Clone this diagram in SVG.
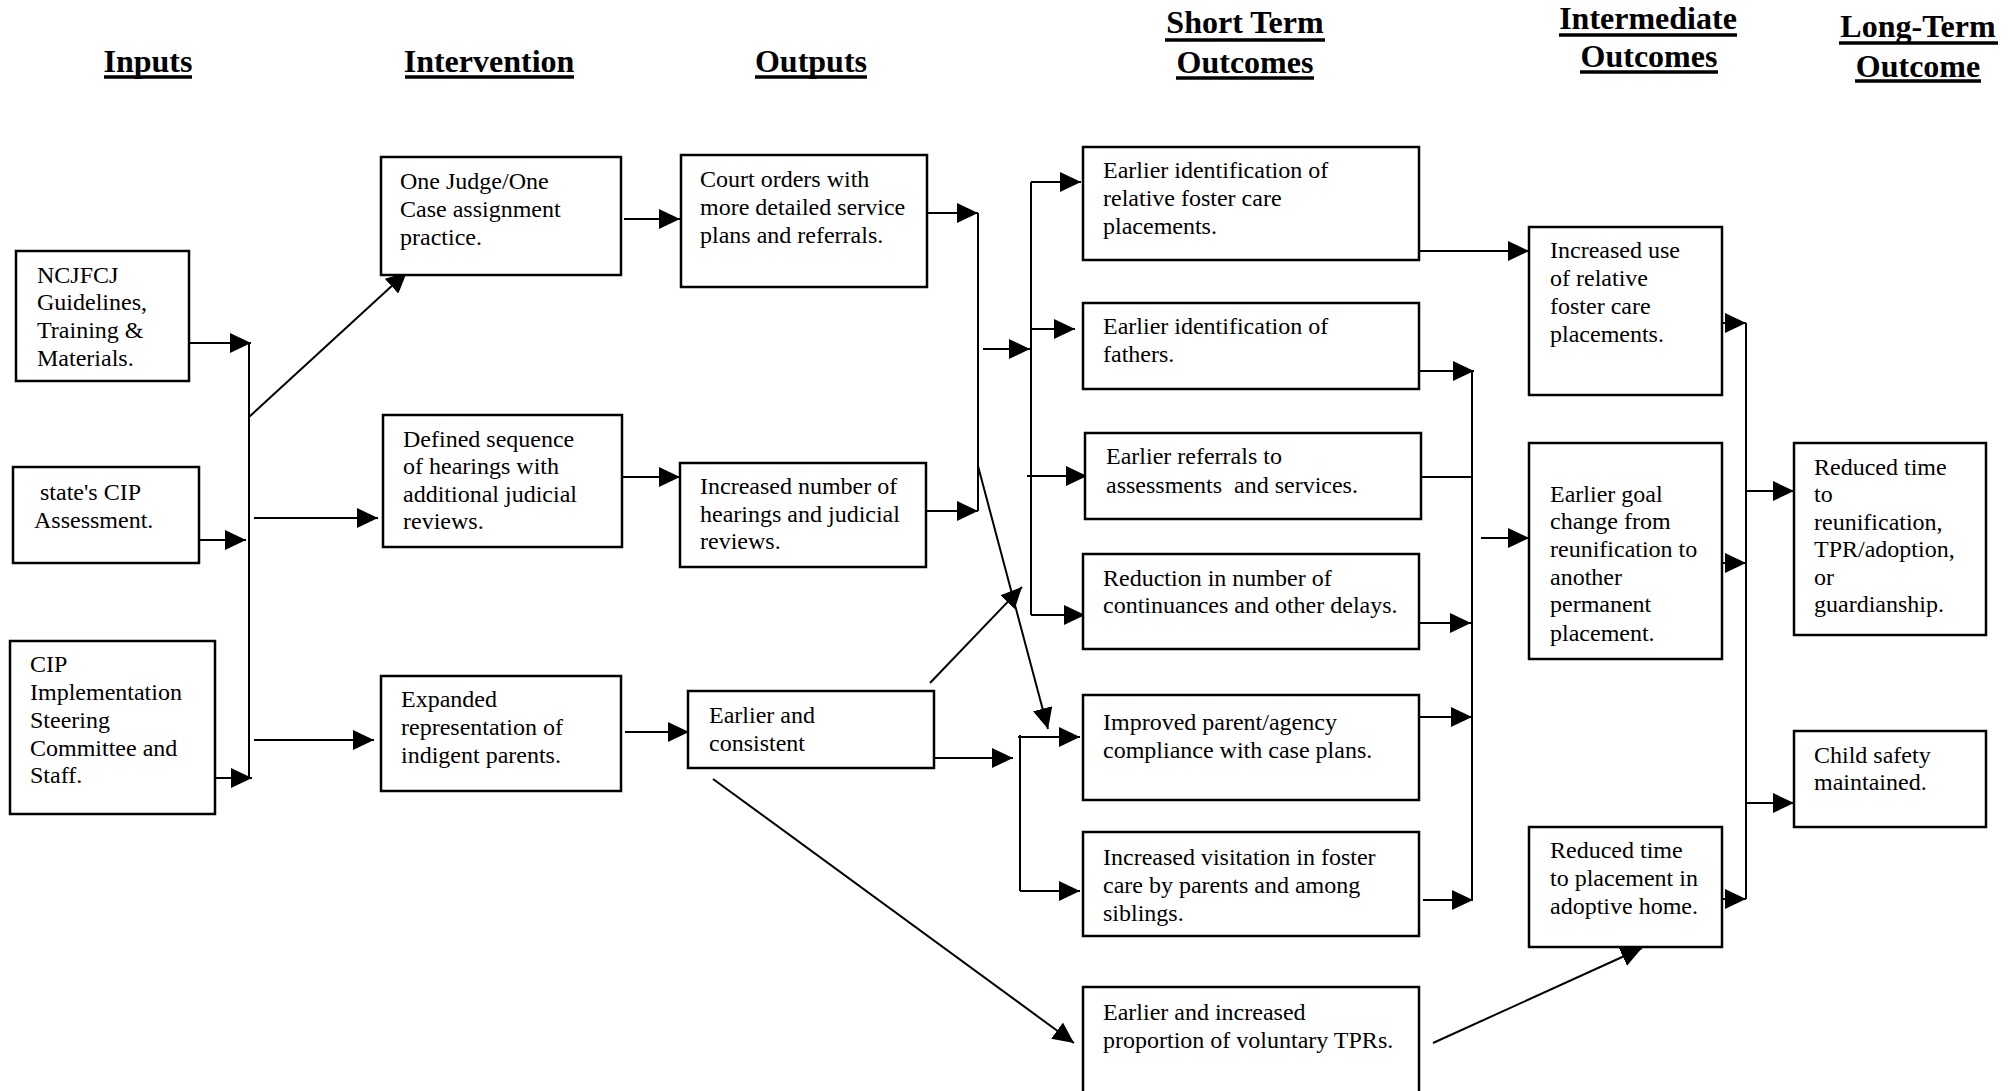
<svg xmlns="http://www.w3.org/2000/svg" width="2011" height="1091" viewBox="0 0 2011 1091">
  <style>
    .hd { font-family: "Liberation Serif", "Times New Roman", serif; font-size: 32px; font-weight: bold; fill: #000; text-anchor: middle; }
    .ul { stroke: #000; stroke-width: 3.5; }
    .box { fill: #fff; stroke: #000; stroke-width: 2.5; }
    .t { font-family: "Liberation Serif", "Times New Roman", serif; font-size: 24px; fill: #000; }
    .c { fill: none; stroke: #000; stroke-width: 2; }
    .a { marker-end: url(#arrow); }
  </style>
  <defs>
    <marker id="arrow" markerUnits="userSpaceOnUse" markerWidth="21" markerHeight="20" refX="21" refY="10" orient="auto">
      <path d="M0,0 L21,10 L0,20 Z" fill="#000"/>
    </marker>
  </defs>
  <rect width="2011" height="1091" fill="#fff"/>

  <!-- column headings -->
  <g id="headings">
    <text class="hd" x="148" y="72">Inputs</text>
    <line class="ul" x1="104" y1="77" x2="192" y2="77"/>
    <text class="hd" x="489" y="72">Intervention</text>
    <line class="ul" x1="405" y1="77" x2="574" y2="77"/>
    <text class="hd" x="811" y="72">Outputs</text>
    <line class="ul" x1="755" y1="77" x2="867" y2="77"/>
    <text class="hd" x="1245" y="33">Short Term</text>
    <line class="ul" x1="1165" y1="40" x2="1325" y2="40"/>
    <text class="hd" x="1245" y="73">Outcomes</text>
    <line class="ul" x1="1176" y1="78" x2="1314" y2="78"/>
    <text class="hd" x="1648" y="29">Intermediate</text>
    <line class="ul" x1="1559" y1="35" x2="1737" y2="35"/>
    <text class="hd" x="1649" y="67">Outcomes</text>
    <line class="ul" x1="1580" y1="72" x2="1718" y2="72"/>
    <text class="hd" x="1918" y="37">Long-Term</text>
    <line class="ul" x1="1839" y1="43" x2="1998" y2="43"/>
    <text class="hd" x="1918" y="77">Outcome</text>
    <line class="ul" x1="1855" y1="81" x2="1981" y2="81"/>
  </g>

  <!-- connectors -->
  <g id="connectors">
    <path class="c a" d="M189,343 H251"/>
    <path class="c a" d="M199,540 H246"/>
    <path class="c a" d="M215,778 H252"/>
    <path class="c" d="M249,343 V778"/>
    <path class="c a" d="M249,417 L407,272"/>
    <path class="c a" d="M254,518 H378"/>
    <path class="c a" d="M254,740 H374"/>
    <path class="c a" d="M624,219 H680"/>
    <path class="c a" d="M623,477 H680"/>
    <path class="c a" d="M625,732 H689"/>
    <path class="c a" d="M927,213 H978"/>
    <path class="c a" d="M926,511 H978"/>
    <path class="c" d="M978,213 V511"/>
    <path class="c a" d="M978,466 L1048,729"/>
    <path class="c a" d="M983,349 H1030"/>
    <path class="c" d="M1031,182 V615"/>
    <path class="c a" d="M1031,182 H1081"/>
    <path class="c a" d="M1031,329 H1075"/>
    <path class="c a" d="M1027,476 H1087"/>
    <path class="c a" d="M1031,615 H1085"/>
    <path class="c a" d="M930,683 L1022,587"/>
    <path class="c a" d="M934,758 H1013"/>
    <path class="c" d="M1020,735 V891"/>
    <path class="c a" d="M1018,737 H1080"/>
    <path class="c a" d="M1020,891 H1080"/>
    <path class="c a" d="M713,779 L1074,1043"/>
    <path class="c a" d="M1409,251 H1529"/>
    <path class="c a" d="M1419,371 H1474"/>
    <path class="c" d="M1421,477 H1472"/>
    <path class="c a" d="M1419,623 H1471"/>
    <path class="c a" d="M1419,717 H1472"/>
    <path class="c a" d="M1423,900 H1473"/>
    <path class="c" d="M1472,371 V900"/>
    <path class="c a" d="M1481,538 H1529"/>
    <path class="c a" d="M1433,1043 L1642,948"/>
    <path class="c a" d="M1722,323 H1746"/>
    <path class="c a" d="M1722,563 H1746"/>
    <path class="c a" d="M1722,899 H1746"/>
    <path class="c" d="M1746,323 V899"/>
    <path class="c a" d="M1746,491 H1794"/>
    <path class="c a" d="M1746,803 H1794"/>
  </g>

  <!-- inputs -->
  <g id="n-ncjfcj">
    <rect class="box" x="16" y="251" width="173" height="130"/>
    <text class="t" x="37" y="283">NCJFCJ</text>
    <text class="t" x="37" y="310">Guidelines,</text>
    <text class="t" x="37" y="338">Training &amp;</text>
    <text class="t" x="37" y="366">Materials.</text>
  </g>
  <g id="n-state-cip">
    <rect class="box" x="13" y="467" width="186" height="96"/>
    <text class="t" x="40" y="500">state's CIP</text>
    <text class="t" x="34" y="528">Assessment.</text>
  </g>
  <g id="n-cip-committee">
    <rect class="box" x="10" y="641" width="205" height="173"/>
    <text class="t" x="30" y="672">CIP</text>
    <text class="t" x="30" y="700">Implementation</text>
    <text class="t" x="30" y="728">Steering</text>
    <text class="t" x="30" y="756">Committee and</text>
    <text class="t" x="30" y="783">Staff.</text>
  </g>

  <!-- intervention -->
  <g id="n-one-judge">
    <rect class="box" x="381" y="157" width="240" height="118"/>
    <text class="t" x="400" y="189">One Judge/One</text>
    <text class="t" x="400" y="217">Case assignment</text>
    <text class="t" x="400" y="245">practice.</text>
  </g>
  <g id="n-defined-sequence">
    <rect class="box" x="383" y="415" width="239" height="132"/>
    <text class="t" x="403" y="447">Defined sequence</text>
    <text class="t" x="403" y="474">of hearings with</text>
    <text class="t" x="403" y="502">additional judicial</text>
    <text class="t" x="403" y="529">reviews.</text>
  </g>
  <g id="n-expanded">
    <rect class="box" x="381" y="676" width="240" height="115"/>
    <text class="t" x="401" y="707">Expanded</text>
    <text class="t" x="401" y="735">representation of</text>
    <text class="t" x="401" y="763">indigent parents.</text>
  </g>

  <!-- outputs -->
  <g id="n-court-orders">
    <rect class="box" x="681" y="155" width="246" height="132"/>
    <text class="t" x="700" y="187">Court orders with</text>
    <text class="t" x="700" y="215">more detailed service</text>
    <text class="t" x="700" y="243">plans and referrals.</text>
  </g>
  <g id="n-hearings">
    <rect class="box" x="680" y="463" width="246" height="104"/>
    <text class="t" x="700" y="494">Increased number of</text>
    <text class="t" x="700" y="522">hearings and judicial</text>
    <text class="t" x="700" y="549">reviews.</text>
  </g>
  <g id="n-earlier-consistent">
    <rect class="box" x="688" y="691" width="246" height="77"/>
    <text class="t" x="709" y="723">Earlier and</text>
    <text class="t" x="709" y="751">consistent</text>
  </g>

  <!-- short term outcomes -->
  <g id="n-relative-id">
    <rect class="box" x="1083" y="147" width="336" height="113"/>
    <text class="t" x="1103" y="178">Earlier identification of</text>
    <text class="t" x="1103" y="206">relative foster care</text>
    <text class="t" x="1103" y="234">placements.</text>
  </g>
  <g id="n-fathers">
    <rect class="box" x="1083" y="303" width="336" height="86"/>
    <text class="t" x="1103" y="334">Earlier identification of</text>
    <text class="t" x="1103" y="362">fathers.</text>
  </g>
  <g id="n-referrals">
    <rect class="box" x="1085" y="433" width="336" height="86"/>
    <text class="t" x="1106" y="464">Earlier referrals to</text>
    <text class="t" x="1106" y="493" style="white-space:pre">assessments  and services.</text>
  </g>
  <g id="n-continuances">
    <rect class="box" x="1083" y="554" width="336" height="95"/>
    <text class="t" x="1103" y="586">Reduction in number of</text>
    <text class="t" x="1103" y="613">continuances and other delays.</text>
  </g>
  <g id="n-compliance">
    <rect class="box" x="1083" y="695" width="336" height="105"/>
    <text class="t" x="1103" y="730">Improved parent/agency</text>
    <text class="t" x="1103" y="758">compliance with case plans.</text>
  </g>
  <g id="n-visitation">
    <rect class="box" x="1083" y="832" width="336" height="104"/>
    <text class="t" x="1103" y="865">Increased visitation in foster</text>
    <text class="t" x="1103" y="893">care by parents and among</text>
    <text class="t" x="1103" y="921">siblings.</text>
  </g>
  <g id="n-voluntary-tpr">
    <rect class="box" x="1083" y="987" width="336" height="110"/>
    <text class="t" x="1103" y="1020">Earlier and increased</text>
    <text class="t" x="1103" y="1048">proportion of voluntary TPRs.</text>
  </g>

  <!-- intermediate outcomes -->
  <g id="n-relative-use">
    <rect class="box" x="1529" y="227" width="193" height="168"/>
    <text class="t" x="1550" y="258">Increased use</text>
    <text class="t" x="1550" y="286">of relative</text>
    <text class="t" x="1550" y="314">foster care</text>
    <text class="t" x="1550" y="342">placements.</text>
  </g>
  <g id="n-goal-change">
    <rect class="box" x="1529" y="443" width="193" height="216"/>
    <text class="t" x="1550" y="502">Earlier goal</text>
    <text class="t" x="1550" y="529">change from</text>
    <text class="t" x="1550" y="557">reunification to</text>
    <text class="t" x="1550" y="585">another</text>
    <text class="t" x="1550" y="612">permanent</text>
    <text class="t" x="1550" y="641">placement.</text>
  </g>
  <g id="n-adoptive">
    <rect class="box" x="1529" y="827" width="193" height="120"/>
    <text class="t" x="1550" y="858">Reduced time</text>
    <text class="t" x="1550" y="886">to placement in</text>
    <text class="t" x="1550" y="914">adoptive home.</text>
  </g>

  <!-- long-term outcomes -->
  <g id="n-reduced-time">
    <rect class="box" x="1794" y="443" width="192" height="192"/>
    <text class="t" x="1814" y="475">Reduced time</text>
    <text class="t" x="1814" y="502">to</text>
    <text class="t" x="1814" y="530">reunification,</text>
    <text class="t" x="1814" y="557">TPR/adoption,</text>
    <text class="t" x="1814" y="585">or</text>
    <text class="t" x="1814" y="612">guardianship.</text>
  </g>
  <g id="n-child-safety">
    <rect class="box" x="1794" y="731" width="192" height="96"/>
    <text class="t" x="1814" y="763">Child safety</text>
    <text class="t" x="1814" y="790">maintained.</text>
  </g>
</svg>
